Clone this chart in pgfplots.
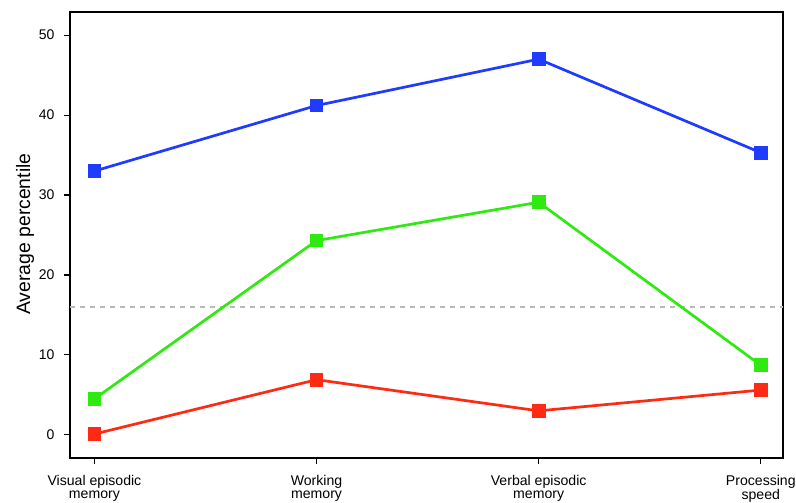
\documentclass[border=0pt]{standalone}
\usepackage{pgfplots}
\pgfplotsset{compat=1.18}
\usepackage{fontspec}
\setmainfont{Liberation Sans}
\definecolor{cblue}{HTML}{1F3BFF}
\definecolor{cgreen}{HTML}{2EEA10}
\definecolor{cred}{HTML}{FF2A14}
\begin{document}
\begin{tikzpicture}
\begin{axis}[
  scale only axis,
  width=713pt, height=446pt,
  xmin=-0.11, xmax=3.1,
  ymin=-2.9, ymax=52.9,
  axis line style={line width=2pt},
  xtick={0,1,2,3},
  xticklabels={Visual episodic\\memory, Working\\memory, Verbal episodic\\memory, Processing\\speed},
  xticklabel style={align=center, font=\fontsize{14.1}{13}\selectfont, yshift=-8pt},
  ytick={0,10,20,30,40,50},
  yticklabel style={font=\fontsize{14}{15}\selectfont, xshift=-6pt},
  /pgf/number format/assume math mode=true,
  tick align=outside,
  major tick length=6pt,
  tick style={line width=1.2pt, black},
  xtick pos=bottom, ytick pos=left,
  ylabel={Average percentile},
  every axis y label/.style={at={(axis description cs:-0.063,0.502)}, rotate=90, anchor=center, font=\fontsize{19.4}{21}\selectfont},
  clip=false,
]
\addplot[gray!55, line width=2.5pt, dash pattern=on 5pt off 5pt] coordinates {(-0.11,16) (3.1,16)};
\addplot[cblue, line width=2.7pt, mark=square*, mark size=5.5pt] coordinates {(0,33) (1,41.2) (2,47) (3,35.3)};
\addplot[cgreen, line width=2.7pt, mark=square*, mark size=5.5pt] coordinates {(0,4.5) (1,24.3) (2,29.1) (3,8.7)};
\addplot[cred, line width=2.7pt, mark=square*, mark size=5.5pt] coordinates {(0,0.1) (1,6.9) (2,3.0) (3,5.6)};
\end{axis}
\pgfresetboundingbox
\path ([xshift=-70pt,yshift=-44pt]current axis.south west) rectangle ([xshift=13pt,yshift=12pt]current axis.north east);
\end{tikzpicture}
\end{document}
